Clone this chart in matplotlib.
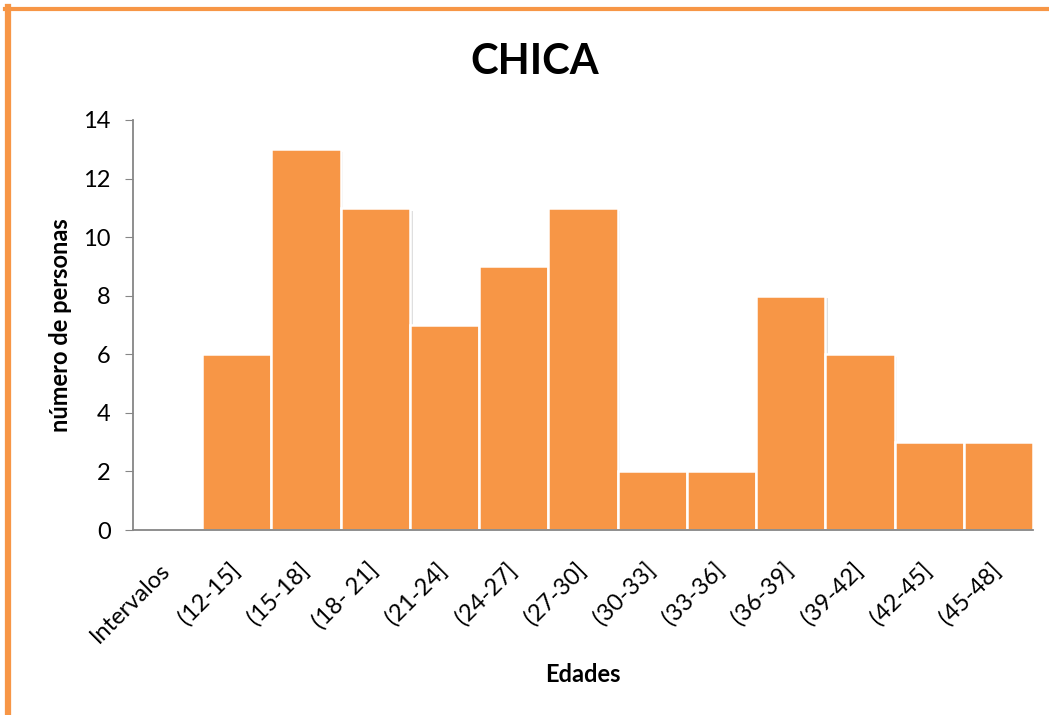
import matplotlib.pyplot as plt
from matplotlib.lines import Line2D
from matplotlib.transforms import ScaledTranslation
import matplotlib.patheffects as pe

# Datos
intervalos = ['Intervalos', '(12-15]', '(15-18]', '(18- 21]', '(21-24]', '(24-27]', '(27-30]',
              '(30-33]', '(33-36]', '(36-39]', '(39-42]', '(42-45]', '(45-48]']
personas = [0, 6, 13, 11, 7, 9, 11, 2, 2, 8, 6, 3, 3]

plt.rcParams['font.family'] = ['Lato', 'DejaVu Sans']

fig = plt.figure(figsize=(10.49, 7.15), dpi=100)
ax = fig.add_axes([0.1268, 0.2587, 0.858, 0.5735])

x = list(range(len(intervalos)))
bars = ax.bar(x, personas, width=1.0, color='#F79646', edgecolor='white', linewidth=1.8)
for b in bars:
    b.set_path_effects([pe.SimplePatchShadow(offset=(2, -2), shadow_rgbFace='gray', alpha=0.25),
                        pe.Normal()])

ax.set_xlim(-0.5, len(intervalos) - 0.5)
ax.set_ylim(0, 14)
ax.set_yticks(range(0, 15, 2))
ax.set_xticks(x)
ax.set_xticklabels(intervalos, rotation=45, ha='right', rotation_mode='anchor', fontsize=17)
ax.tick_params(axis='x', length=0, pad=21)
ax.tick_params(axis='y', length=6, color='#868686', labelsize=17, pad=10)

# mover etiquetas un poco a la izquierda
desplaz = ScaledTranslation(-8 / 100, 0, fig.dpi_scale_trans)
for lbl in ax.get_xticklabels():
    lbl.set_transform(lbl.get_transform() + desplaz)

for s in ['top', 'right']:
    ax.spines[s].set_visible(False)
for s in ['left', 'bottom']:
    ax.spines[s].set_color('#868686')
    ax.spines[s].set_linewidth(1.3)

# Titulo y etiquetas
fig.text(535 / 1049, 1 - 62 / 715, 'CHICA', fontsize=30, fontweight='bold', ha='center', va='center')
ax.set_ylabel('número de personas', fontsize=17, fontweight='bold', labelpad=8)
ax.set_xlabel('Edades', fontsize=17, fontweight='bold', labelpad=12)

# Borde naranja
fig.add_artist(Line2D([0.0072, 0.0072], [0, 0.99], transform=fig.transFigure,
                      color='#F79646', linewidth=4.5))
fig.add_artist(Line2D([0.005, 1], [0.988, 0.988], transform=fig.transFigure,
                      color='#F79646', linewidth=3))

fig.savefig('out.png', dpi=100)
